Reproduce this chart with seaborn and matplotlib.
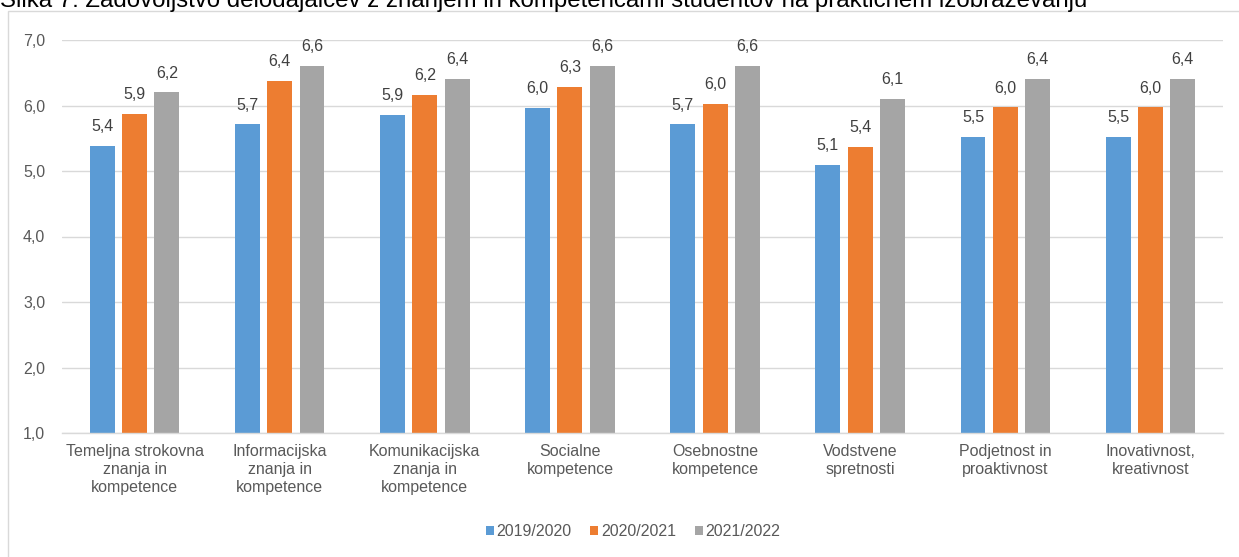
import numpy as np
import pandas as pd
import matplotlib
matplotlib.use('Agg')
import matplotlib.pyplot as plt
import seaborn as sns
from matplotlib.patches import Rectangle

# data
categories = ["Temeljna strokovna\nznanja in\nkompetence",
              "Informacijska\nznanja in\nkompetence",
              "Komunikacijska\nznanja in\nkompetence",
              "Socialne\nkompetence",
              "Osebnostne\nkompetence",
              "Vodstvene\nspretnosti",
              "Podjetnost in\nproaktivnost",
              "Inovativnost,\nkreativnost"]
years = ["2019/2020", "2020/2021", "2021/2022"]
y2019 = [5.38, 5.71, 5.86, 5.96, 5.71, 5.09, 5.52, 5.52]
y2020 = [5.87, 6.38, 6.16, 6.28, 6.03, 5.37, 5.97, 5.97]
y2021 = [6.20, 6.60, 6.40, 6.60, 6.60, 6.10, 6.40, 6.40]
colors = ["#5B9BD5", "#ED7D31", "#A5A5A5"]
title = "Slika 7: Zadovoljstvo delodajalcev z znanjem in kompetencami študentov na praktičnem izobraževanju"

df = pd.DataFrame({
    'cat': categories * 3,
    'year': np.repeat(years, len(categories)),
    'val': y2019 + y2020 + y2021,
})

sns.set_theme(style='white')
plt.rcParams['font.family'] = ['Liberation Sans', 'DejaVu Sans']

fig = plt.figure(figsize=(12.39, 5.57), dpi=100)
ax = fig.add_axes([62 / 1239, 1 - 433 / 557, (1223 - 62) / 1239, (433 - 40) / 557])

sns.barplot(data=df, x='cat', y='val', hue='year', palette=colors, ax=ax,
            width=0.668, gap=0.23, linewidth=0, saturation=1, errorbar=None)

for cont in ax.containers:
    ax.bar_label(cont, labels=[f"{v:.1f}".replace('.', ',') for v in cont.datavalues],
                 padding=8.5, fontsize=11.5, color='#404040')

ax.set_ylim(1, 7)
ax.set_yticks(np.arange(1, 8, 1))
ax.set_yticklabels([f"{v:.1f}".replace('.', ',') for v in np.arange(1, 8, 1)])
ax.set_xlim(-0.5, len(categories) - 0.5)
ax.set_xlabel('')
ax.set_ylabel('')
ax.yaxis.grid(True, color='#D9D9D9', linewidth=1.0)
ax.set_axisbelow(True)
for s in ['top', 'right', 'left']:
    ax.spines[s].set_visible(False)
ax.spines['bottom'].set_color('#D9D9D9')
ax.spines['bottom'].set_linewidth(1.0)
ax.tick_params(axis='both', length=0, labelsize=11.5, labelcolor='#595959')
ax.tick_params(axis='x', pad=8)
ax.tick_params(axis='y', pad=12)
for t in ax.get_xticklabels():
    t.set_linespacing(1.25)

handles, labels = ax.get_legend_handles_labels()
ax.get_legend().remove()
leg = fig.legend(handles, labels, loc='center', bbox_to_anchor=(633 / 1239, 1 - 532 / 557),
                 ncol=3, frameon=False, fontsize=11.5, handlelength=0.5, handleheight=0.5,
                 handletextpad=0.15, columnspacing=1.2)
for t in leg.get_texts():
    t.set_color('#595959')

# outer chart frame, cut by the picture edge
fig.patches.append(Rectangle((8 / 1239, -0.1), 1.2, 1.1 - 11 / 557, transform=fig.transFigure,
                             fill=False, edgecolor='#D9D9D9', linewidth=1.0))

# the title sits partly above the picture, as in the reference
fig.text(0.0, 1 - 7 / 557, title, ha='left', va='baseline', fontsize=17.3, color='black')

fig.savefig('out.png', dpi=100)
